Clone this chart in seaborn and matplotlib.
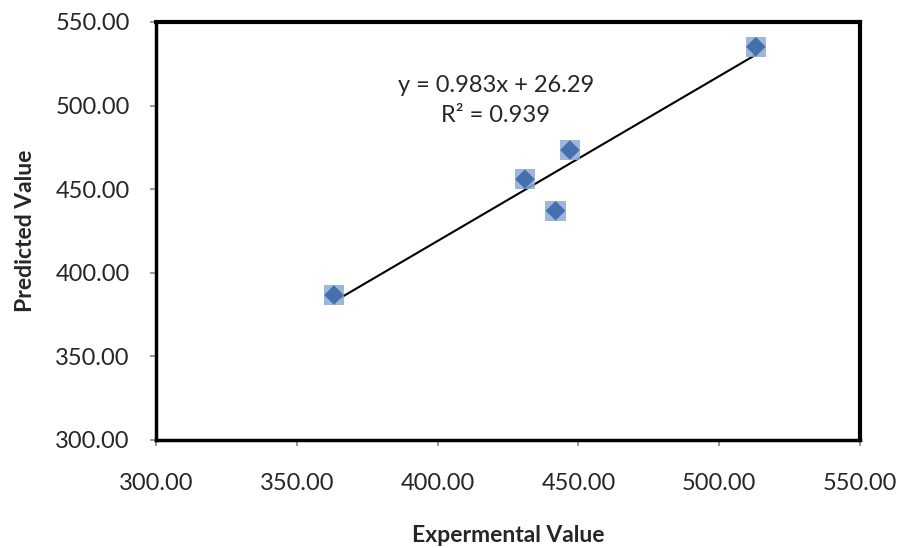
import numpy as np
import pandas as pd
import seaborn as sns
import matplotlib.pyplot as plt


# DATI
experimental = [363.2, 431.0, 441.9, 447.0, 513.0]
predicted = [386.7, 456.0, 437.1, 473.4, 535.2]
ticks = [300, 350, 400, 450, 500, 550]
eq_text = "y = 0.983x + 26.29"
r2_text = "R² = 0.939"

df = pd.DataFrame({"Expermental Value": experimental, "Predicted Value": predicted})


# STILE
sns.set_style("white")
plt.rcParams["font.family"] = ["Lato", "DejaVu Sans"]

fig = plt.figure(figsize=(9.01, 5.48), dpi=100)
ax = fig.add_axes([0.1731, 0.1971, 0.7814, 0.7628])

# linea di tendenza
sns.regplot(data=df, x="Expermental Value", y="Predicted Value", ax=ax,
            scatter=False, ci=None, truncate=True,
            line_kws={"color": "black", "linewidth": 1.5, "zorder": 2})

# marker: quadrato chiaro sotto, rombo scuro sopra
sns.scatterplot(data=df, x="Expermental Value", y="Predicted Value", ax=ax,
                marker="s", s=215, color="#8EAAD6", alpha=0.85,
                edgecolor="none", zorder=3)
sns.scatterplot(data=df, x="Expermental Value", y="Predicted Value", ax=ax,
                marker="D", s=100, color="#4471AC", edgecolor="none", zorder=4)

ax.text(420.7, 512.3, eq_text, ha="center", va="center", fontsize=17)
ax.text(420.7, 493.8, r2_text, ha="center", va="center", fontsize=17)

ax.set_xlim(300, 550)
ax.set_ylim(300, 550)
ax.set_xticks(ticks)
ax.set_yticks(ticks)
ax.set_xticklabels([f"{t:.2f}" for t in ticks])
ax.set_yticklabels([f"{t:.2f}" for t in ticks])
ax.tick_params(axis="both", direction="out", length=4, width=1.2,
               color="#888888", labelsize=17, left=True, bottom=True)
ax.tick_params(axis="x", pad=20)
ax.tick_params(axis="y", pad=15)

for side in ["top", "right"]:
    ax.spines[side].set_color("black")
    ax.spines[side].set_linewidth(3)
for side in ["left", "bottom"]:
    ax.spines[side].set_color("black")
    ax.spines[side].set_linewidth(2.5)

ax.set_xlabel("Expermental Value", fontsize=16.5, fontweight="bold", labelpad=22)
ax.set_ylabel("Predicted Value", fontsize=16.5, fontweight="bold", labelpad=14)

plt.savefig("out.png", dpi=100)
plt.close()
